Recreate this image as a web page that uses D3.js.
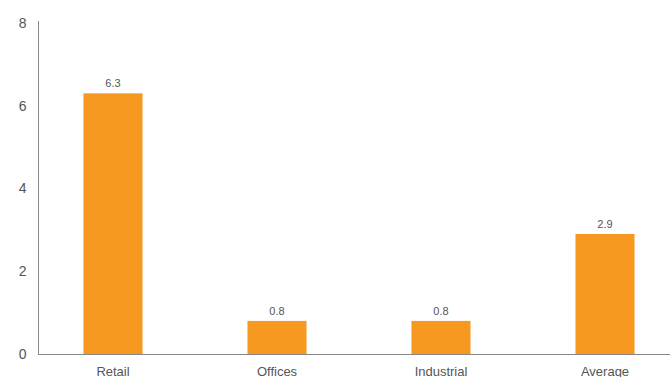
<!DOCTYPE html>
<html><head><meta charset="utf-8">
<script src="https://cdn.jsdelivr.net/npm/d3@7"></script>
<style>body{margin:0;background:#fff}svg{display:block;font-family:"Liberation Sans",Arial,sans-serif}</style>
</head><body>
<svg id="c" width="670" height="377"></svg>
<script>
const categories = ["Retail","Offices","Industrial","Average"];
const values = [6.3, 0.8, 0.8, 2.9];
const yTicks = [0, 2, 4, 6, 8];

const svg = d3.select("#c");
const x = d3.scaleBand().domain(categories).range([31, 687]).paddingInner(0.64).paddingOuter(0.32);
const y = d3.scaleLinear().domain([0, 8]).range([354, 23]);

svg.selectAll("rect.bar").data(values).join("rect").attr("class","bar")
  .attr("x",(d,i)=>x(categories[i])).attr("width",x.bandwidth())
  .attr("y",d=>y(d)).attr("height",d=>y(0)-y(d)).attr("fill","#f79820");

svg.selectAll("text.val").data(values).join("text").attr("class","val")
  .attr("x",(d,i)=>x(categories[i])+x.bandwidth()/2).attr("y",d=>y(d)-6)
  .attr("text-anchor","middle").attr("font-size",11).attr("fill","#555").text(d=>d.toFixed(1));

// y axis
const ya = svg.append("g").attr("transform","translate(38.5,0)")
  .call(d3.axisLeft(y).tickValues(yTicks).tickSize(0).tickPadding(12).tickFormat(d3.format("d")));
ya.select(".domain").attr("stroke","#888").attr("d",`M0,${y(8)-2}V${y(0)}`);
ya.selectAll("text").attr("font-size",14).attr("fill","#555").attr("font-family","Liberation Sans, Arial, sans-serif");

// x axis
const xa = svg.append("g").attr("transform",`translate(0,${y(0)+0.5})`)
  .call(d3.axisBottom(x).tickSize(0).tickPadding(12));
xa.select(".domain").attr("stroke","#888").attr("d","M38,0H670");
xa.selectAll("text").attr("font-size",13).attr("fill","#555").attr("font-family","Liberation Sans, Arial, sans-serif");
</script>
</body></html>
